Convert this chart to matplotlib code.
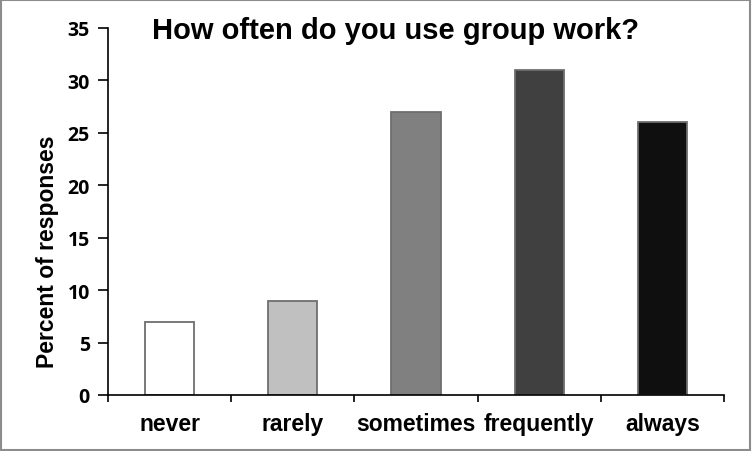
import numpy as np
import matplotlib.pyplot as plt
from matplotlib.patches import Rectangle

categories = ['never', 'rarely', 'sometimes', 'frequently', 'always']
percent = [7, 9, 27, 31, 26]
colors = ['#ffffff', '#c0c0c0', '#808080', '#404040', '#0f0f0f']
yticks = [0, 5, 10, 15, 20, 25, 30, 35]

fig = plt.figure(figsize=(7.52, 4.52), dpi=100)
ax = fig.add_axes([108/752, 56/452, 616/752, 367/452])

x = np.arange(len(categories))
ax.bar(x, percent, width=0.4, color=colors, edgecolor='#6e6e6e', linewidth=1.3, zorder=2)

ax.set_xlim(-0.5, len(categories) - 0.5)
ax.set_ylim(0, 35)
ax.set_yticks(yticks, [str(v) for v in yticks], fontfamily='Open Sans',
              fontweight='bold', fontsize=14)
ax.set_xticks(x, categories, fontfamily='Liberation Sans', fontweight='bold', fontsize=16.5)
ax.set_xticks(np.arange(-0.5, len(categories)), minor=True)
ax.tick_params(axis='x', which='major', length=0, pad=12)
ax.tick_params(axis='x', which='minor', length=5, width=1.2, direction='out')
ax.tick_params(axis='y', length=7, width=1.2, direction='out', pad=6)

for s in ['top', 'right']:
    ax.spines[s].set_visible(False)
for s in ['left', 'bottom']:
    ax.spines[s].set_linewidth(1.2)

ax.set_ylabel('Percent of responses', fontfamily='Liberation Sans', fontweight='bold',
              fontsize=16.5, va='center')
ax.yaxis.set_label_coords(-0.099, 0.392)

fig.text(396/752, 1 - 31/452, 'How often do you use group work?', ha='center', va='center',
         fontfamily='Liberation Sans', fontweight='bold', fontsize=21)

fig.patches.append(Rectangle((0.0015, 0.002), 0.996, 0.995, transform=fig.transFigure,
                             fill=False, edgecolor='#8c8c8c', linewidth=1.5))

fig.savefig('out.png', dpi=100)
